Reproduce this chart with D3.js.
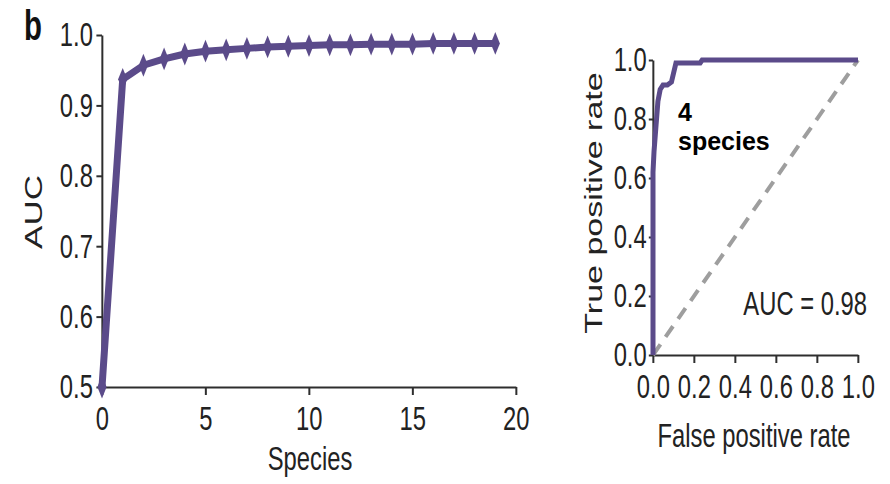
<!DOCTYPE html>
<html>
<head>
<meta charset="utf-8">
<script src="https://cdn.jsdelivr.net/npm/d3@7"></script>
<style>
  body { margin: 0; background: #fff; }
  svg text { font-family: "Liberation Sans", Arial, Helvetica, sans-serif; fill: #222; }
</style>
</head>
<body>
<div id="chart"></div>
<script>
// ---- Data ----

// Left panel: AUC against number of species
var speciesCounts = [0, 1, 2, 3, 4, 5, 6, 7, 8, 9, 10, 11, 12, 13, 14, 15, 16, 17, 18, 19];
var aucValues = [0.5, 0.937, 0.957, 0.966, 0.973, 0.977, 0.979, 0.981, 0.983, 0.984,
                 0.985, 0.986, 0.986, 0.987, 0.987, 0.987, 0.988, 0.988, 0.988, 0.988];
var speciesTicks = [0, 5, 10, 15, 20];
var aucTicks = [0.5, 0.6, 0.7, 0.8, 0.9, 1.0];

// Right panel: ROC curve for 4 species
var rocFpr = [0, 0, 0.005, 0.015, 0.024, 0.035, 0.049, 0.07, 0.09, 0.112, 0.23, 0.24, 1.0];
var rocTpr = [0, 0.62, 0.69, 0.78, 0.86, 0.90, 0.915, 0.915, 0.925, 0.99, 0.99, 1.0, 1.0];
var rateTicks = [0, 0.2, 0.4, 0.6, 0.8, 1.0];
var chanceLine = [0, 1];
var aucLabel = 'AUC = 0.98';

// ---- Layout ----
// The figure is horizontally squashed; draw in a wide space and squeeze it.
var sx = 0.7;
var outW = 890, outH = 484;
var W = outW / sx;
function px(v) { return v / sx; }   // display px -> internal x

var purple = '#5b4b8a';
var axisColor = '#2e2e2e';

var svg = d3.select('#chart')
    .append('svg')
    .attr('width', outW)
    .attr('height', outH)
    .attr('viewBox', '0 0 ' + W + ' ' + outH)
    .attr('preserveAspectRatio', 'none');

function styleAxis(g, fontSize) {
    g.attr('font-size', null).attr('font-family', null);
    g.select('.domain')
        .attr('stroke', axisColor)
        .attr('stroke-width', 2)
        .attr('vector-effect', 'non-scaling-stroke');
    g.selectAll('.tick line')
        .attr('stroke', axisColor)
        .attr('stroke-width', 2)
        .attr('vector-effect', 'non-scaling-stroke');
    g.selectAll('.tick text')
        .attr('fill', '#222')
        .style('font-size', fontSize + 'px');
}

/**** LEFT PANEL ****/
var x1 = d3.scaleLinear().domain([0, 20]).range([px(102), px(516)]);
var y1 = d3.scaleLinear().domain([0.5, 1.0]).range([387, 35]);

var left = svg.append('g');

left.append('g')
    .attr('transform', 'translate(' + x1(0) + ',0)')
    .call(d3.axisLeft(y1).tickValues(aucTicks).tickFormat(d3.format('.1f'))
        .tickSize(8).tickSizeOuter(0).tickPadding(5))
    .call(styleAxis, 34);

left.append('g')
    .attr('transform', 'translate(0,' + y1(0.5) + ')')
    .call(d3.axisBottom(x1).tickValues(speciesTicks).tickFormat(d3.format('d'))
        .tickSize(8).tickSizeOuter(0).tickPadding(11))
    .call(styleAxis, 34);

var aucLine = d3.line()
    .x(function(d, i) { return x1(speciesCounts[i]); })
    .y(function(d) { return y1(d); });

left.append('path')
    .datum(aucValues)
    .attr('fill', 'none')
    .attr('stroke', purple)
    .attr('stroke-width', 7)
    .attr('stroke-linejoin', 'round')
    .attr('vector-effect', 'non-scaling-stroke')
    .attr('d', aucLine);

var marker = d3.symbol().type(d3.symbolDiamond).size(150);
left.selectAll('.marker')
    .data(aucValues)
    .enter()
    .append('path')
    .attr('class', 'marker')
    .attr('fill', purple)
    .attr('transform', function(d, i) { return 'translate(' + x1(speciesCounts[i]) + ',' + y1(d) + ')'; })
    .attr('d', marker);

left.append('text')
    .attr('text-anchor', 'middle')
    .attr('x', px(310))
    .attr('y', 470)
    .style('font-size', '34px')
    .text('Species');

left.append('text')
    .attr('text-anchor', 'middle')
    .attr('transform', 'translate(' + px(42) + ',212) rotate(-90)')
    .style('font-size', '35px')
    .text('AUC');

left.append('text')
    .attr('x', px(24))
    .attr('y', 40)
    .style('font-size', '42px')
    .style('font-weight', 'bold')
    .style('fill', '#111')
    .text('b');

/**** RIGHT PANEL ****/
var x2 = d3.scaleLinear().domain([0, 1]).range([px(653), px(858)]);
var y2 = d3.scaleLinear().domain([0, 1]).range([355, 60]);

var right = svg.append('g');

right.append('g')
    .attr('transform', 'translate(' + x2(0) + ',0)')
    .call(d3.axisLeft(y2).tickValues(rateTicks).tickFormat(d3.format('.1f'))
        .tickSize(6).tickSizeOuter(0).tickPadding(3))
    .call(styleAxis, 34);

right.append('g')
    .attr('transform', 'translate(0,' + y2(0) + ')')
    .call(d3.axisBottom(x2).tickValues(rateTicks).tickFormat(d3.format('.1f'))
        .tickSize(8).tickSizeOuter(0).tickPadding(11))
    .call(styleAxis, 34);

// Chance diagonal
right.append('path')
    .datum(chanceLine)
    .attr('fill', 'none')
    .attr('stroke', '#9e9e9e')
    .attr('stroke-width', 4)
    .attr('stroke-dasharray', '13,9')
    .attr('vector-effect', 'non-scaling-stroke')
    .attr('d', d3.line().x(function(d) { return x2(d); }).y(function(d) { return y2(d); }));

var rocLine = d3.line()
    .x(function(d, i) { return x2(rocFpr[i]); })
    .y(function(d) { return y2(d); });

right.append('path')
    .datum(rocTpr)
    .attr('fill', 'none')
    .attr('stroke', purple)
    .attr('stroke-width', 5)
    .attr('vector-effect', 'non-scaling-stroke')
    .attr('d', rocLine);

right.append('text')
    .attr('text-anchor', 'middle')
    .attr('x', px(754))
    .attr('y', 447)
    .style('font-size', '34px')
    .text('False positive rate');

right.append('text')
    .attr('text-anchor', 'middle')
    .attr('transform', 'translate(' + px(602) + ',203) rotate(-90)')
    .style('font-size', '34px')
    .text('True positive rate');

right.append('text')
    .attr('text-anchor', 'end')
    .attr('x', px(867))
    .attr('y', 315)
    .style('font-size', '34px')
    .text(aucLabel);

// The "4 species" note is not squashed in the original
var note = right.append('g')
    .attr('transform', 'translate(' + px(678) + ',0) scale(' + (1 / sx) + ',1)');
note.append('text')
    .attr('x', 0)
    .attr('y', 121)
    .style('font-size', '25px')
    .style('font-weight', 'bold')
    .style('fill', '#000')
    .text('4');
note.append('text')
    .attr('x', 0)
    .attr('y', 150)
    .style('font-size', '25px')
    .style('font-weight', 'bold')
    .style('fill', '#000')
    .text('species');
</script>
</body>
</html>
